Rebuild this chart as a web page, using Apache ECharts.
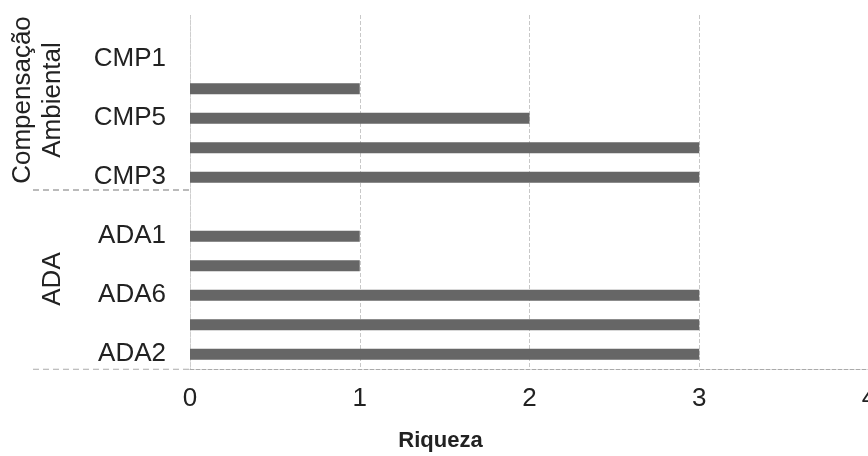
<!DOCTYPE html>
<html>
<head>
<meta charset="utf-8">
<script src="https://cdn.jsdelivr.net/npm/echarts@6/dist/echarts.min.js"></script>
<style>html,body{margin:0;padding:0;background:#fff}#c{width:868px;height:456px}</style>
</head>
<body>
<div id="c"></div>
<script>
// categories bottom -> top
const categories = ['ADA2', '', 'ADA6', '', 'ADA1', '', 'CMP3', '', 'CMP5', '', 'CMP1', ''];
const riqueza = [3, 3, 3, 1, 1, null, 3, 3, 2, 1, 0, null];
const xTicks = [0, 1, 2, 3, 4];
const groupNames = ['Compensação\nAmbiental', 'ADA'];
const xAxisName = 'Riqueza';

const chart = echarts.init(document.getElementById('c'), null, {renderer: 'canvas'});
const font = 'Liberation Sans, Arial, sans-serif';
chart.setOption({
  backgroundColor: '#ffffff',
  animation: false,
  grid: {left: 190, top: 15, width: 679, height: 354, containLabel: false, outerBoundsMode: 'none'},
  xAxis: {
    type: 'value', min: xTicks[0], max: xTicks[xTicks.length - 1], interval: 1,
    name: xAxisName, nameLocation: 'middle', nameGap: 61,
    nameTextStyle: {fontFamily: font, fontSize: 22, color: '#222', fontWeight: 'bold', padding: [0, 178, 0, 0]},
    axisLine: {show: true, lineStyle: {color: '#aaa', type: 'dashed', width: 1}},
    axisTick: {show: false},
    axisLabel: {fontFamily: font, fontSize: 26, color: '#222', margin: 17},
    splitLine: {show: true, lineStyle: {color: '#c8c8c8', type: 'dashed', width: 1}}
  },
  yAxis: {
    type: 'category', data: categories,
    axisLine: {show: true, lineStyle: {color: '#d0d0d0', type: 'dotted'}},
    axisTick: {show: false},
    axisLabel: {interval: 0, fontFamily: font, fontSize: 26, color: '#222', margin: 24},
    splitLine: {show: false}
  },
  series: [{
    type: 'bar', data: riqueza, barWidth: 11,
    itemStyle: {color: '#666666'}
  }]
});

const sepY = Math.round((chart.convertToPixel({yAxisIndex: 0}, 6) + chart.convertToPixel({yAxisIndex: 0}, 5)) / 2) - 2;
const x0 = chart.convertToPixel({xAxisIndex: 0}, 0);
const baseY = chart.convertToPixel({yAxisIndex: 0}, 0) + 15;
chart.setOption({
  graphic: [
    {type: 'line', shape: {x1: 33, y1: sepY, x2: x0, y2: sepY}, style: {stroke: '#777', lineDash: [6, 4], lineWidth: 1}},
    {type: 'line', shape: {x1: 33, y1: baseY, x2: x0, y2: baseY}, style: {stroke: '#aaa', lineDash: [6, 4], lineWidth: 1}},
    {type: 'text', x: 38, y: 100, rotation: Math.PI / 2,
      style: {text: groupNames[0], font: '26px ' + font, fill: '#222', align: 'center', verticalAlign: 'middle', lineHeight: 30}},
    {type: 'text', x: 53, y: 279, rotation: Math.PI / 2,
      style: {text: groupNames[1], font: '26px ' + font, fill: '#222', align: 'center', verticalAlign: 'middle'}}
  ]
});
</script>
</body>
</html>
